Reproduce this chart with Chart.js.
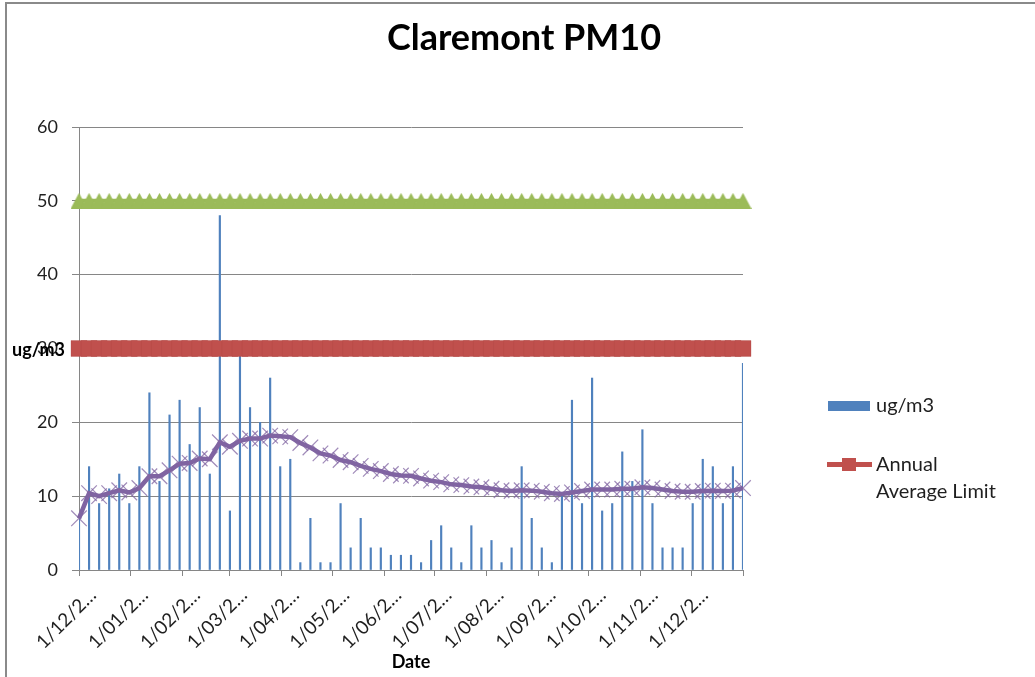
<!DOCTYPE html>
<html>
<head>
<meta charset="utf-8">
<title>Claremont PM10</title>
<script src="https://cdn.jsdelivr.net/npm/chart.js@4.4.1/dist/chart.umd.min.js"></script>
<style>
	html, body { margin: 0; padding: 0; background: #fff; }
	#wrap { position: relative; width: 1035px; height: 677px; }
</style>
</head>
<body>
<div id="wrap"><canvas id="pm10-chart" width="1035" height="677"></canvas></div>
<script>
	'use strict';

	// Sampling days (1 in 6 days).
	const sampleDates = [
		'1/12/2008', '7/12/2008', '13/12/2008', '19/12/2008', '25/12/2008', '31/12/2008',
		'6/01/2009', '12/01/2009', '18/01/2009', '24/01/2009', '30/01/2009',
		'5/02/2009', '11/02/2009', '17/02/2009', '23/02/2009',
		'1/03/2009', '7/03/2009', '13/03/2009', '19/03/2009', '25/03/2009', '31/03/2009',
		'6/04/2009', '12/04/2009', '18/04/2009', '24/04/2009', '30/04/2009',
		'6/05/2009', '12/05/2009', '18/05/2009', '24/05/2009', '30/05/2009',
		'5/06/2009', '11/06/2009', '17/06/2009', '23/06/2009', '29/06/2009',
		'5/07/2009', '11/07/2009', '17/07/2009', '23/07/2009', '29/07/2009',
		'4/08/2009', '10/08/2009', '16/08/2009', '22/08/2009', '28/08/2009',
		'3/09/2009', '9/09/2009', '15/09/2009', '21/09/2009', '27/09/2009',
		'3/10/2009', '9/10/2009', '15/10/2009', '21/10/2009', '27/10/2009',
		'2/11/2009', '8/11/2009', '14/11/2009', '20/11/2009', '26/11/2009',
		'2/12/2009', '8/12/2009', '14/12/2009', '20/12/2009', '26/12/2009',
		'1/01/2010'
	];

	// Daily PM10 (ug/m3).
	const pm10 = [
		7, 14, 9, 11, 13, 9, 14, 24, 12, 21,
		23, 17, 22, 13, 48, 8, 29, 22, 20, 26,
		14, 15, 1, 7, 1, 1, 9, 3, 7, 3,
		3, 2, 2, 2, 1, 4, 6, 3, 1, 6,
		3, 4, 1, 3, 14, 7, 3, 1, 10, 23,
		9, 26, 8, 9, 16, 12, 19, 9, 3, 3,
		3, 9, 15, 14, 9, 14, 28
	];

	// Running average line.
	const runningAverage = [
		7.0, 10.4, 10.0, 10.4, 10.8, 10.5, 11.1, 12.7, 12.7, 13.5,
		14.4, 14.5, 15.1, 15.0, 17.3, 16.7, 17.5, 17.8, 17.8, 18.2,
		18.1, 18.0, 17.2, 16.6, 15.8, 15.5, 14.9, 14.6, 14.1, 13.7,
		13.4, 13.0, 12.8, 12.75, 12.4, 12.1, 11.9, 11.6, 11.5, 11.3,
		11.2, 11.0, 10.8, 10.7, 10.8, 10.75, 10.6, 10.4, 10.3, 10.5,
		10.7, 10.9, 10.9, 10.9, 11.0, 11.0, 11.2, 11.1, 10.9, 10.7,
		10.6, 10.6, 10.7, 10.75, 10.7, 10.75, 11.1
	];

	const annualLimit = [
		30, 30, 30, 30, 30, 30, 30, 30, 30, 30,
		30, 30, 30, 30, 30, 30, 30, 30, 30, 30,
		30, 30, 30, 30, 30, 30, 30, 30, 30, 30,
		30, 30, 30, 30, 30, 30, 30, 30, 30, 30,
		30, 30, 30, 30, 30, 30, 30, 30, 30, 30,
		30, 30, 30, 30, 30, 30, 30, 30, 30, 30,
		30, 30, 30, 30, 30, 30, 30
	];

	const dailyLimit = [
		50, 50, 50, 50, 50, 50, 50, 50, 50, 50,
		50, 50, 50, 50, 50, 50, 50, 50, 50, 50,
		50, 50, 50, 50, 50, 50, 50, 50, 50, 50,
		50, 50, 50, 50, 50, 50, 50, 50, 50, 50,
		50, 50, 50, 50, 50, 50, 50, 50, 50, 50,
		50, 50, 50, 50, 50, 50, 50, 50, 50, 50,
		50, 50, 50, 50, 50, 50, 50
	];

	// Month tick labels on the date axis.
	const monthTicks = [
		'1/12/2008', '1/01/2009', '1/02/2009', '1/03/2009', '1/04/2009', '1/05/2009', '1/06/2009',
		'1/07/2009', '1/08/2009', '1/09/2009', '1/10/2009', '1/11/2009', '1/12/2009', '1/01/2010'
	];

	const yTicks = [0, 10, 20, 30, 40, 50, 60];

	const chartTitle = 'Claremont PM10';
	const yTitle = 'ug/m3';
	const xTitle = 'Date';

	function dayNumber(text) {
		const parts = text.split('/').map(Number);
		return Date.UTC(parts[2], parts[1] - 1, parts[0]) / 86400000;
	}

	const startDay = dayNumber(sampleDates[0]);
	const sampleX = sampleDates.map(function(d) { return dayNumber(d) - startDay; });
	const tickX = monthTicks.map(function(d) { return dayNumber(d) - startDay; });

	function points(values) {
		return values.map(function(v, i) { return { x: sampleX[i], y: v }; });
	}

	// Excel style triangle marker.
	const triangle = document.createElement('canvas');
	triangle.width = 17;
	triangle.height = 16;
	(function() {
		const t = triangle.getContext('2d');
		t.fillStyle = '#9bbb59';
		t.beginPath();
		t.moveTo(8.5, 0);
		t.lineTo(17, 16);
		t.lineTo(0, 16);
		t.closePath();
		t.fill();
	})();

	const tickFont = { family: 'Lato', size: 18 };
	const textColor = '#1f1f1f';
	const gridColor = '#868686';

	// Background, frame, title, y label and legend.
	const excelDecor = {
		id: 'excelDecor',
		beforeDraw: function(chart) {
			const ctx = chart.ctx;
			ctx.save();
			ctx.fillStyle = '#ffffff';
			ctx.fillRect(0, 0, chart.width, chart.height);
			ctx.fillStyle = '#8a8a8a';
			ctx.fillRect(5, 2, chart.width - 5, 2);
			ctx.fillRect(5, 2, 2, chart.height - 2);
			ctx.restore();
		},
		afterDraw: function(chart) {
			const ctx = chart.ctx;
			const yScale = chart.scales.y;
			const sets = chart.data.datasets;
			ctx.save();

			ctx.fillStyle = '#000';
			ctx.font = 'bold 36px Lato';
			ctx.textAlign = 'center';
			ctx.textBaseline = 'alphabetic';
			ctx.fillText(chartTitle, 524, 50);

			ctx.font = 'bold 18px Lato';
			ctx.textAlign = 'left';
			ctx.textBaseline = 'middle';
			ctx.fillText(yTitle, 12, yScale.getPixelForValue(30) + 2);

			// Legend: only bars and annual limit, as in the original.
			ctx.fillStyle = sets[3].backgroundColor;
			ctx.fillRect(828, 401, 42, 10);
			ctx.fillStyle = sets[1].borderColor;
			ctx.fillRect(827, 462, 45, 5);
			ctx.fillRect(842, 458, 14, 13);

			ctx.fillStyle = textColor;
			ctx.font = '20px Lato';
			ctx.fillText(sets[3].label, 876, 406);
			ctx.fillText('Annual', 876, 465);
			ctx.fillText('Average Limit', 876, 492);

			ctx.restore();
		}
	};

	new Chart(document.getElementById('pm10-chart'), {
		type: 'bar',
		data: {
			datasets: [
				{
					type: 'line',
					label: 'Running Average',
					data: points(runningAverage),
					borderColor: '#8064a2',
					borderWidth: 4.5,
					pointStyle: 'crossRot',
					pointRadius: 11,
					pointBorderWidth: 1.2,
					pointBorderColor: 'rgba(128, 100, 162, 0.75)',
					pointBackgroundColor: 'rgba(0, 0, 0, 0)',
					tension: 0,
					clip: false,
					order: 1
				},
				{
					type: 'line',
					label: 'Annual Average Limit',
					data: points(annualLimit),
					borderColor: '#c0504d',
					borderWidth: 4,
					pointStyle: 'rect',
					pointRadius: 11.3,
					pointBackgroundColor: '#c0504d',
					pointBorderColor: 'rgba(172, 70, 67, 0.3)',
					pointBorderWidth: 1,
					clip: false,
					order: 2
				},
				{
					type: 'line',
					label: '24 Hour Limit',
					data: points(dailyLimit),
					borderColor: '#9bbb59',
					borderWidth: 4,
					pointStyle: triangle,
					clip: false,
					order: 3
				},
				{
					type: 'bar',
					label: 'ug/m3',
					data: points(pm10),
					backgroundColor: '#4f81bd',
					barThickness: 1.5,
					order: 4
				}
			]
		},
		options: {
			responsive: false,
			animation: false,
			events: [],
			layout: {
				padding: { top: 127, right: 292, bottom: 0, left: 0 }
			},
			plugins: {
				legend: { display: false },
				title: { display: false },
				tooltip: { enabled: false }
			},
			scales: {
				x: {
					type: 'linear',
					min: tickX[0],
					max: tickX[tickX.length - 1],
					offset: false,
					afterBuildTicks: function(scale) {
						scale.ticks = tickX.map(function(v) { return { value: v }; });
					},
					afterFit: function(scale) {
						scale.height = 107;
					},
					grid: {
						drawOnChartArea: false,
						offset: false,
						color: gridColor,
						tickLength: 6
					},
					border: { color: gridColor },
					ticks: {
						autoSkip: false,
						minRotation: 45,
						maxRotation: 45,
						padding: 8,
						labelOffset: 14,
						color: textColor,
						font: { family: 'Lato', size: 19 },
						callback: function(value, index) {
							if (index >= monthTicks.length - 1) {
								return '';
							}
							return monthTicks[index].slice(0, 6) + '\u2026';
						}
					},
					title: {
						display: true,
						text: xTitle,
						color: '#000',
						font: { family: 'Lato', size: 18, weight: 'bold' },
						padding: { top: 0, bottom: 4 }
					}
				},
				y: {
					min: yTicks[0],
					max: yTicks[yTicks.length - 1],
					afterBuildTicks: function(scale) {
						scale.ticks = yTicks.map(function(v) { return { value: v }; });
					},
					afterFit: function(scale) {
						scale.width = 79;
					},
					grid: {
						color: gridColor,
						tickLength: 7
					},
					border: { color: gridColor },
					ticks: {
						padding: 14,
						color: textColor,
						font: tickFont
					}
				}
			}
		},
		plugins: [excelDecor]
	});
</script>
</body>
</html>
